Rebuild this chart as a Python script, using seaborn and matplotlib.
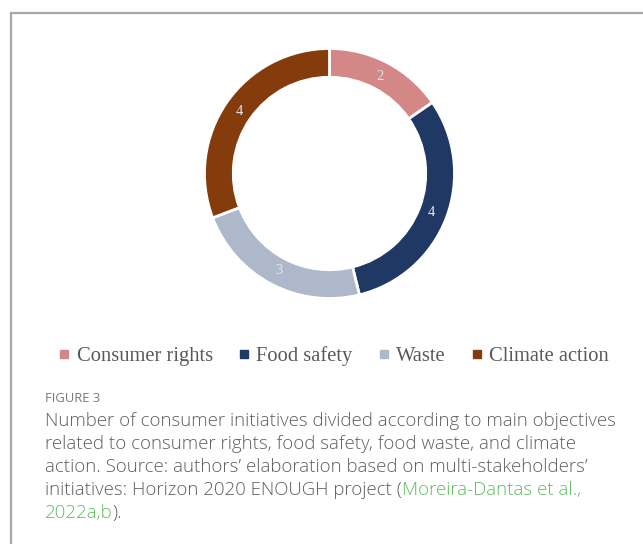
import matplotlib
matplotlib.use("Agg")
import matplotlib.pyplot as plt
import matplotlib.patches as mpatches
from matplotlib.lines import Line2D
import seaborn as sns

# =========================
# DATA
# =========================
categories = ["Consumer rights", "Food safety", "Waste", "Climate action"]
counts = [2, 4, 3, 4]
colors = ["#D38787", "#1F3864", "#ADB9CA", "#843C0C"]

caption_title = "FIGURE 3"
caption_lines = [
    "Number of consumer initiatives divided according to main objectives",
    "related to consumer rights, food safety, food waste, and climate",
    "action. Source: authors\u2019 elaboration based on multi-stakeholders\u2019",
]
caption_line4 = ("initiatives: Horizon 2020 ENOUGH project (", "Moreira-Dantas et al.,")
caption_line5 = ("2022a,b", ").")

# =========================
# STYLE
# =========================
sns.set_theme(style="white")
plt.rcParams["font.family"] = ["Liberation Serif", "DejaVu Serif"]

W, H = 643, 544
fig = plt.figure(figsize=(W / 100, H / 100), dpi=100)
fig.patch.set_facecolor("white")

# outer frame (open to the right and bottom, as in the page crop)
fig.patches.append(mpatches.Rectangle((11 / W, -0.1), 2, (H - 13) / H + 0.1,
                                      transform=fig.transFigure, fill=False,
                                      edgecolor="#a8a8a8", linewidth=1.6))

# =========================
# DONUT
# =========================
cx, cy, r = 329.5, 173.5, 125
ax = fig.add_axes([(cx - r) / W, (H - cy - r) / H, 2 * r / W, 2 * r / H])
total = sum(counts)
wedges, texts, autotexts = ax.pie(
    counts, colors=colors, startangle=90, counterclock=False,
    wedgeprops=dict(width=0.23, edgecolor="white", linewidth=2),
    autopct=lambda p: f"{round(p * total / 100)}", pctdistance=0.875,
    textprops=dict(color="#E6E6E6", fontsize=10.5, family="Liberation Serif"))
ax.set_xlim(-1, 1)
ax.set_ylim(-1, 1)
ax.set_aspect("equal")
ax.axis("off")

# =========================
# LEGEND
# =========================
handles = [Line2D([0], [0], marker="s", linestyle="none", markersize=5.5,
                  markerfacecolor=c, markeredgecolor=c) for c in colors]
fig.legend(handles, categories, loc="center", bbox_to_anchor=(334 / W, 1 - 356 / H),
           ncol=4, frameon=False, fontsize=14.8, handlelength=0.5,
           handletextpad=0.35, columnspacing=1.26, labelcolor="#595959")

# =========================
# CAPTION
# =========================
sans = ["Open Sans", "DejaVu Sans"]
gray = "#5f5f5f"
green = "#5DBE5D"
fs = 13.4
x0 = 45 / W
fig.text(x0, 1 - 398 / H, caption_title, family=sans, fontsize=9.4,
         color="#7a7a7a", va="center")
line_y = [421, 444, 467, 490, 513]
for yy, line in zip(line_y, caption_lines):
    fig.text(x0, 1 - yy / H, line, family=sans, fontsize=fs, color=gray,
             va="center", fontweight="light")

renderer = fig.canvas.get_renderer()
t = fig.text(x0, 1 - line_y[3] / H, caption_line4[0], family=sans, fontsize=fs,
             color=gray, va="center", fontweight="light")
bb = t.get_window_extent(renderer)
fig.text(bb.x1 / W, 1 - line_y[3] / H, caption_line4[1], family=sans, fontsize=fs,
         color=green, va="center", fontweight="light")
t = fig.text(x0, 1 - line_y[4] / H, caption_line5[0], family=sans, fontsize=fs,
             color=green, va="center", fontweight="light")
bb = t.get_window_extent(renderer)
fig.text(bb.x1 / W, 1 - line_y[4] / H, caption_line5[1], family=sans, fontsize=fs,
         color=gray, va="center", fontweight="light")

fig.savefig("out.png", dpi=100)
